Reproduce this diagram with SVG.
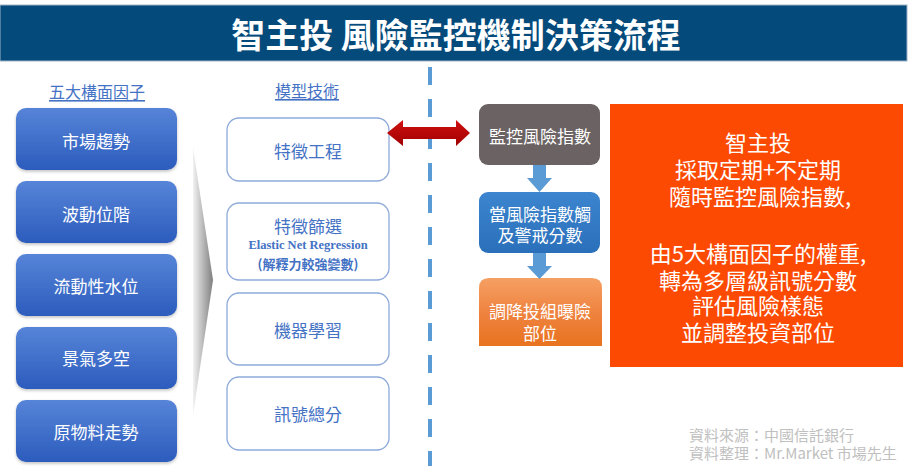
<svg xmlns="http://www.w3.org/2000/svg" width="911" height="470" viewBox="0 0 911 470">
<defs>
<style>
text{font-family:"Noto Sans CJK TC","Noto Sans",sans-serif;dominant-baseline:central;text-anchor:middle}
.title{fill:#fff;font-size:34px;font-weight:bold}
.hdr{fill:#4472c4;font-size:16px;text-decoration:underline}
.lbox{fill:url(#gBlue);filter:url(#sh)}
.ltxt{fill:#fff;font-size:17px}
.mbox{fill:#fff;stroke:#8eaadb;stroke-width:1.3}
.mtxt{fill:#4472c4;font-size:17px}
.wtxt{fill:#fff;font-size:17px}
.big{fill:#fff;font-size:22px}
.foot{fill:#c0c0c0;font-size:15px;text-anchor:start}
</style>
<linearGradient id="gBlue" x1="0" y1="0" x2="0" y2="1">
<stop offset="0" stop-color="#5684d8"/>
<stop offset="1" stop-color="#2c5cbd"/>
</linearGradient>
<linearGradient id="gOrange" x1="0" y1="0" x2="0" y2="1">
<stop offset="0" stop-color="#f5a063"/>
<stop offset="0.5" stop-color="#ef8340"/>
<stop offset="1" stop-color="#e8731f"/>
</linearGradient>
<linearGradient id="gStep" x1="0" y1="0" x2="0" y2="1">
<stop offset="0" stop-color="#3d85cf"/>
<stop offset="1" stop-color="#2a6fb9"/>
</linearGradient>
<linearGradient id="gWedge" x1="0" y1="0" x2="1" y2="0">
<stop offset="0" stop-color="#f2f2f2"/>
<stop offset="1" stop-color="#7f7f7f"/>
</linearGradient>
<linearGradient id="gRed" x1="0" y1="0" x2="0" y2="1">
<stop offset="0" stop-color="#d01010"/>
<stop offset="1" stop-color="#a00000"/>
</linearGradient>
<filter id="sh" x="-10%" y="-10%" width="120%" height="130%">
<feDropShadow dx="0" dy="1.5" stdDeviation="1.5" flood-color="#000" flood-opacity="0.25"/>
</filter>
</defs>

<g id="title">
<rect x="0" y="5" width="907" height="56" fill="#044a7b" stroke="#9fb3c6" stroke-width="1"/>
<text class="title" x="456" y="33">智主投 風險監控機制決策流程</text>
</g>

<g id="headers">
<text class="hdr" x="97" y="91">五大構面因子</text>
<text class="hdr" x="307" y="90">模型技術</text>
</g>

<g id="factor-1"><rect class="lbox" x="16" y="108" width="161" height="62" rx="10"/><text class="ltxt" x="96" y="140">市場趨勢</text></g>
<g id="factor-2"><rect class="lbox" x="16" y="181" width="161" height="62" rx="10"/><text class="ltxt" x="96" y="213">波動位階</text></g>
<g id="factor-3"><rect class="lbox" x="16" y="254" width="161" height="62" rx="10"/><text class="ltxt" x="96" y="285">流動性水位</text></g>
<g id="factor-4"><rect class="lbox" x="16" y="327" width="161" height="62" rx="10"/><text class="ltxt" x="96" y="357">景氣多空</text></g>
<g id="factor-5"><rect class="lbox" x="16" y="400" width="161" height="62" rx="10"/><text class="ltxt" x="96" y="431">原物料走勢</text></g>

<g id="wedge">
<polygon points="193,147 213,280 193,415" fill="url(#gWedge)"/>
</g>

<g id="model-1"><rect class="mbox" x="227" y="118" width="162" height="63" rx="12"/><text class="mtxt" x="308" y="150">特徵工程</text></g>
<g id="model-2"><rect class="mbox" x="227" y="203" width="162" height="77" rx="12"/>
<text class="mtxt" x="308" y="225">特徵篩選</text>
<text x="308" y="245" style="font-family:'Liberation Serif',serif;font-weight:bold;font-size:12.5px;fill:#4472c4">Elastic Net Regression</text>
<text x="308" y="263" style="font-weight:bold;font-size:13px;fill:#4472c4">(解釋力較強變數)</text>
</g>
<g id="model-3"><rect class="mbox" x="227" y="293" width="162" height="72" rx="12"/><text class="mtxt" x="308" y="329">機器學習</text></g>
<g id="model-4"><rect class="mbox" x="227" y="377" width="162" height="73" rx="12"/><text class="mtxt" x="308" y="413">訊號總分</text></g>

<g id="step-1"><rect x="479" y="104" width="121" height="61" rx="9" fill="#6b6363"/><text class="wtxt" x="540" y="135">監控風險指數</text></g>
<g id="step-2"><rect x="479" y="192" width="121" height="61" rx="9" fill="url(#gStep)"/>
<text class="wtxt" x="540" y="213">當風險指數觸</text><text class="wtxt" x="540" y="234">及警戒分數</text></g>
<g id="step-3"><path d="M479,346 V288 Q479,278 489,278 H592 Q602,278 602,288 V346 Z" fill="url(#gOrange)"/>
<text class="wtxt" x="540" y="310">調降投組曝險</text><text class="wtxt" x="540" y="332">部位</text></g>

<g id="summary">
<rect x="610" y="104" width="293" height="263" fill="#fd4a03"/>
<text class="big" x="758" y="141">智主投</text>
<text class="big" x="758" y="168">採取定期+不定期</text>
<text class="big" x="760" y="195">隨時監控風險指數,</text>
<text class="big" x="758" y="252">由5大構面因子的權重,</text>
<text class="big" x="758" y="279">轉為多層級訊號分數</text>
<text class="big" x="758" y="304">評估風險樣態</text>
<text class="big" x="758" y="331">並調整投資部位</text>
</g>

<g id="connectors">
<line x1="430" y1="67" x2="430" y2="466" stroke="#5b9bd5" stroke-width="4" stroke-dasharray="18 14"/>
<polygon points="387,133 403,120 403,127 456,127 456,120 470,133 456,146 456,139 403,139 403,146" fill="url(#gRed)"/>
<polygon points="533,165 546,165 546,178 552,178 539.5,192 527,178 533,178" fill="#5b9bd5"/>
<polygon points="533,253 546,253 546,266 552,266 539.5,279 527,266 533,266" fill="#5b9bd5"/>
</g>

<g id="footer">
<text class="foot" x="689" y="434">資料來源：中國信託銀行</text>
<text class="foot" x="689" y="452">資料整理：Mr.Market 市場先生</text>
</g>
</svg>
